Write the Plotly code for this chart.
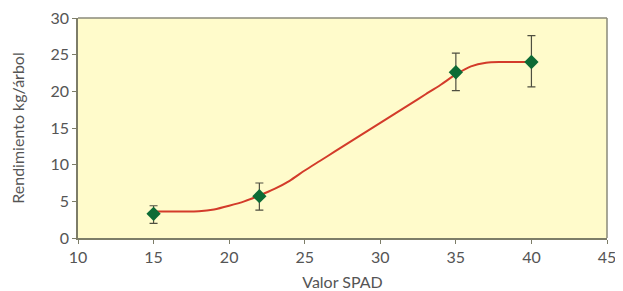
import plotly.graph_objects as go

# Observed points with asymmetric error bars
spad = [15, 22, 35, 40]
rend = [3.3, 5.7, 22.6, 24.0]
err_plus = [1.1, 1.8, 2.6, 3.6]
err_minus = [1.3, 1.9, 2.5, 3.4]

# Fitted curve
curve_x = [15, 16, 17, 18, 19, 20, 21, 22, 23, 24, 25, 26, 27, 28, 29, 30,
           31, 32, 33, 34, 35, 36, 37, 38, 39, 40]
curve_y = [3.6, 3.6, 3.6, 3.65, 3.9, 4.4, 5.0, 5.8, 6.7, 7.8, 9.2, 10.5, 11.8, 13.1, 14.4, 15.7,
           17.0, 18.3, 19.6, 20.9, 22.3, 23.4, 23.9, 24.0, 24.0, 24.0]

x_ticks = [10, 15, 20, 25, 30, 35, 40, 45]
y_ticks = [0, 5, 10, 15, 20, 25, 30]

font_fam = "Lato, 'Open Sans', sans-serif"
txt = "#555555"
axcol = "#7d7d68"

fig = go.Figure()
fig.add_trace(go.Scatter(
    x=curve_x, y=curve_y, mode="lines",
    line=dict(color="#d33b2a", width=2, shape="spline", smoothing=0.8),
    hoverinfo="skip", showlegend=False))
fig.add_trace(go.Scatter(
    x=spad, y=rend, mode="markers",
    marker=dict(symbol="diamond", size=11, color="#0d6b35"),
    error_y=dict(type="data", symmetric=False, array=err_plus, arrayminus=err_minus,
                 color="#4f4f40", thickness=1.2, width=4),
    showlegend=False))

fig.update_layout(
    width=615, height=283,
    margin=dict(l=70, r=16, t=10, b=53),
    paper_bgcolor="white", plot_bgcolor="#fffbcb",
    font=dict(family=font_fam, size=16, color=txt),
    xaxis=dict(range=[10, 45], tickvals=x_ticks, ticks="outside", ticklen=4,
               tickcolor=axcol, showline=True, linecolor=axcol, linewidth=1.5,
               mirror=False, showgrid=False, zeroline=False, automargin=False,
               ticklabeloverflow="allow",
               tickfont=dict(size=16, color=txt),
               title=dict(text="Valor SPAD", standoff=14, font=dict(size=16, color=txt))),
    yaxis=dict(range=[0, 30], tickvals=y_ticks, ticks="outside", ticklen=4,
               tickcolor=axcol, showline=True, linecolor=axcol, linewidth=1.5,
               showgrid=False, zeroline=False, automargin=False,
               ticklabeloverflow="allow",
               tickfont=dict(size=16, color=txt),
               title=dict(text="Rendimiento kg/árbol", standoff=23, font=dict(size=16, color=txt))),
    shapes=[dict(type="line", xref="paper", yref="paper", x0=0, x1=1, y0=1, y1=1,
                 line=dict(color="#8a8a7a", width=1.5)),
            dict(type="line", xref="paper", yref="paper", x0=1, x1=1, y0=0, y1=1,
                 line=dict(color="#8a8a7a", width=1.5))],
)

fig.write_html("out.html")
